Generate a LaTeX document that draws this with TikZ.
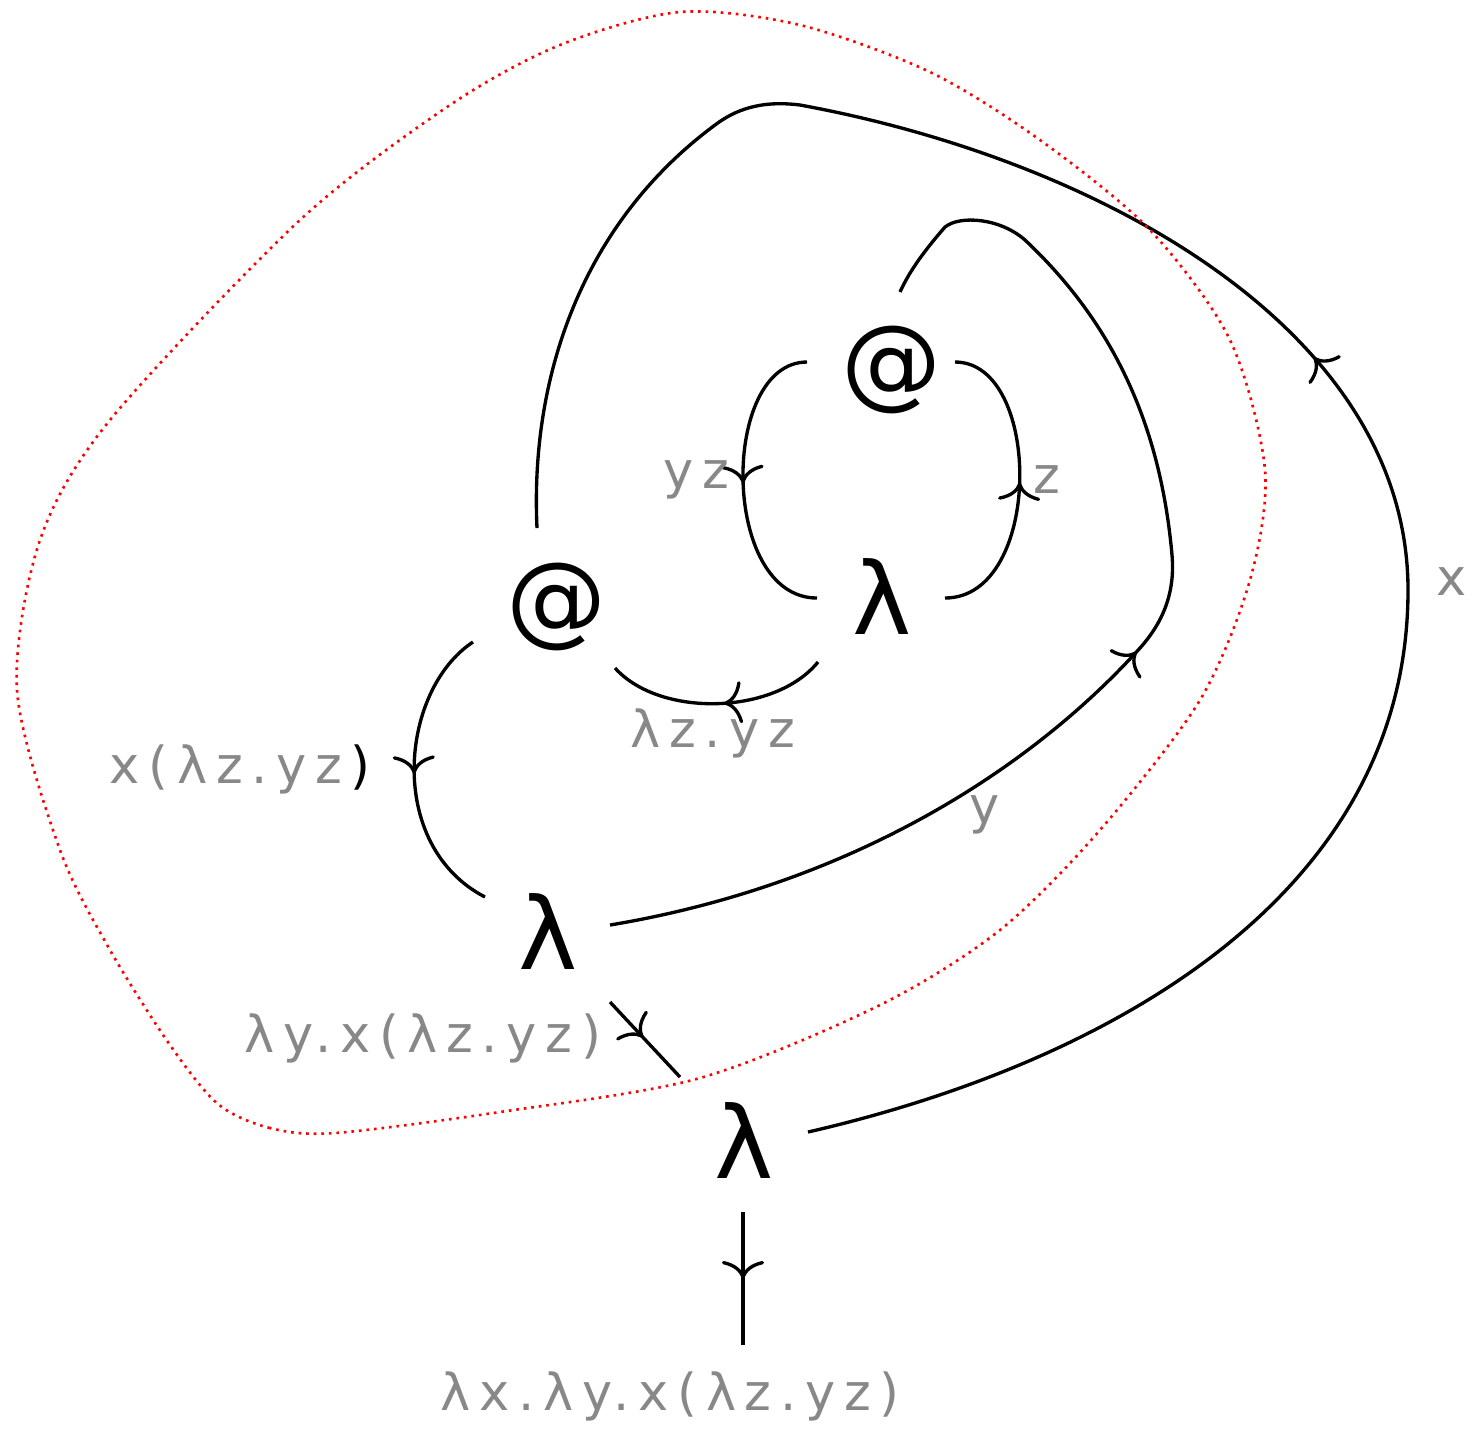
\documentclass[tikz,border=0pt]{standalone}
\usepackage{fontspec}
\usetikzlibrary{arrows.meta, decorations.markings}
\newfontfamily\termfont{DejaVu Sans}
\newfontfamily\lblfont[LetterSpace=17]{DejaVu Sans}
\definecolor{lblgray}{RGB}{136,136,136}
\tikzset{
    term/.style={font=\termfont\fontsize{28.45}{30}\selectfont, inner sep=0pt},
    lbl/.style={font=\lblfont\fontsize{14.5}{16}\selectfont, text=lblgray, inner sep=0pt, anchor=base},
    wire/.style={line width=0.95pt, black},
    midarrow/.style={postaction={decorate}, decoration={markings,
                     mark=at position #1 with {\arrow{Computer Modern Rightarrow[length=5pt, width=12pt]}}}},
    scopeline/.style={red, line width=0.75pt, dash pattern=on 0.75pt off 1.4pt},
}

\begin{document}
\begin{tikzpicture}[x=0.01cm, y=-0.01cm]
    \useasboundingbox (0,0) rectangle (1476,1432);
    % terms
    \node[term] (at1) at (892,370) {@};
    \node[term] (lam1) at (882,596) {λ};
    \node[term] (at2) at (557,607) {@};
    \node[term] (lam2) at (548,931) {λ};
    \node[term] (lam3) at (744,1140) {λ};
    \coordinate (root) at (743,1345);
    % inner abstraction
    \draw[wire, midarrow=0.5] ([shift={(-85,-8)}]at1.center) .. controls (720,362) and (720,598) .. ([shift={(-65,2)}]lam1.center);
    \draw[wire, midarrow=0.5] ([shift={(63,2)}]lam1.center) .. controls (1043,598) and (1043,362) .. ([shift={(63,-8)}]at1.center);
    \draw[wire, midarrow=0.47] ([shift={(-64,66)}]lam1.center) .. controls (775,715) and (660,718) .. ([shift={(58,61)}]at2.center);
    \draw[wire, midarrow=0.5] ([shift={(-84,35)}]at2.center) .. controls (400,690) and (385,845) .. ([shift={(-63,-34)}]lam2.center);
    \draw[wire, midarrow=0.47] ([shift={(62,71)}]lam2.center) -- ([shift={(-64,-63)}]lam3.center);
    \draw[wire, midarrow=0.5] ([shift={(-1,72)}]lam3.center) -- (root);
    % bound variables
    \draw[wire, midarrow=0.49] ([shift={(62,-6)}]lam2.center) .. controls (850,885) and (1030,770) .. (1140,648)
        .. controls (1165,620) and (1175,590) .. (1172,555)
        .. controls (1160,420) and (1110,320) .. (1025,240)
        .. controls (1000,218) and (960,215) .. (945,227)
        .. controls (925,250) and (910,270) .. ([shift={(8,-78)}]at1.center);
    \draw[wire, midarrow=0.5] ([shift={(64,-8)}]lam3.center) .. controls (1100,1065) and (1408,900) .. (1408,590)
        .. controls (1408,330) and (1100,160) .. (800,105)
        .. controls (760,100) and (735,110) .. (715,125)
        .. controls (580,225) and (530,380) .. ([shift={(-20,-79)}]at2.center);
    % scope of the outer abstraction
    \draw[scopeline] plot[smooth cycle] coordinates {(335,1133) (270,1128) (218,1104) (170,1045) (110,950) (60,850)
        (17,690) (40,540) (110,420) (300,220) (450,105) (560,45) (680,12) (800,25) (930,72) (1040,140)
        (1150,230) (1230,340) (1265,470) (1250,580) (1200,700) (1100,830) (1000,930) (880,1005) (700,1078) (500,1112)};
    % labels
    \node[lbl] (lyz) at (696,488) {yz};
    \node[lbl] (lz) at (1047,493) {z};
    \node[lbl] (lbody) at (713,747) {λz.yz};
    \node[lbl] (lapp) at (240,783) {x(λz.yz\kern0.08cm\textcolor{black}{)}};
    \node[lbl] (ly) at (985,823) {y};
    \node[lbl] (lx) at (1452,595) {x};
    \node[lbl] (linner) at (423,1052) {λy.x(λz.yz)};
    \node[lbl] (lroot) at (670,1410) {λx.λy.x(λz.yz)};
\end{tikzpicture}
\end{document}
